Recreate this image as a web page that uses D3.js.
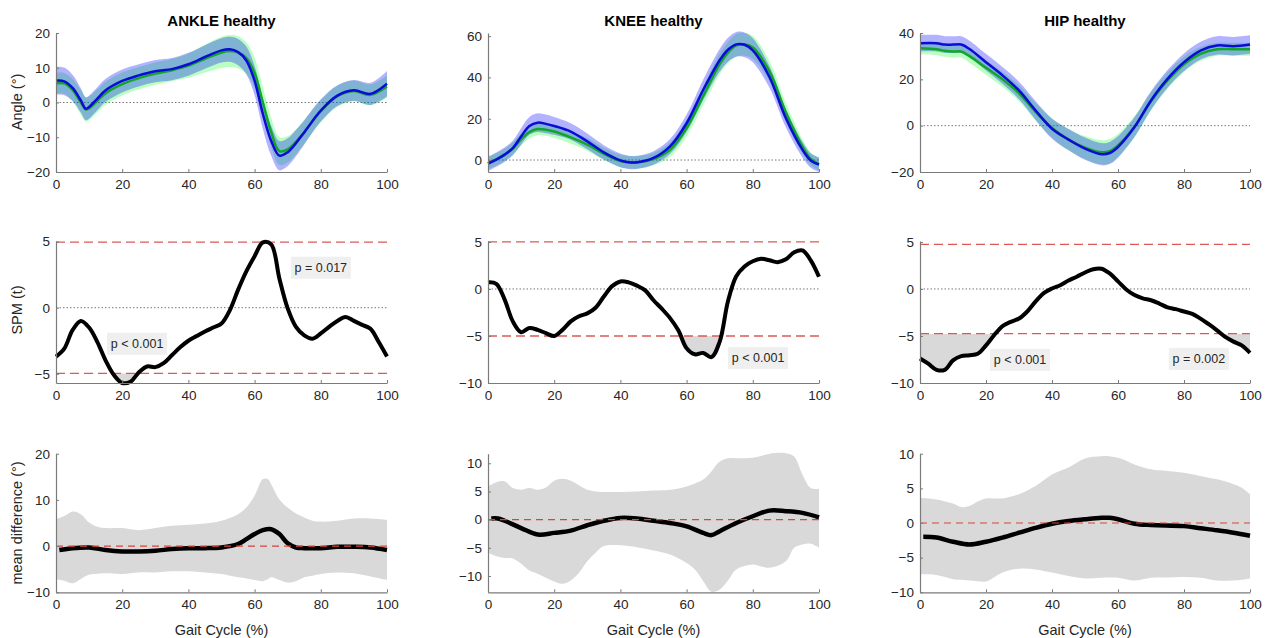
<!DOCTYPE html>
<html>
<head>
<meta charset="utf-8">
<script src="https://cdn.jsdelivr.net/npm/d3@7"></script>
<style>
  body { margin: 0; background: #fff; }
  text { font-family: "Liberation Sans", Arial, sans-serif; }
</style>
</head>
<body>
<svg id="chart" width="1269" height="638"></svg>
<script>
// ---------- data ----------
const joints = ["ANKLE", "KNEE", "HIP"];
const xTicks = [0, 20, 40, 60, 80, 100];

// joint angles (deg): healthy group (green) vs other group (blue), mean and sd
const ankleX = [0, 2.5, 5, 7.5, 9, 10, 12.5, 15, 20, 25, 30, 35, 40, 45, 50, 52.5, 55, 57.5, 60, 62.5, 65, 67.5, 70, 72.5, 75, 80, 85, 90, 95, 100];
const ankleBlue = [6.3, 6.1, 4.2, 0.6, -1.8, -1.3, 1.1, 3.5, 6.2, 7.8, 9.0, 9.6, 11, 13.1, 15.0, 15.3, 14.5, 12.1, 6.3, -3.3, -11, -15.3, -14.3, -11.7, -8.6, -2.3, 2.0, 3.5, 2.5, 5.4];
const ankleBlueSd = [4, 4, 3.8, 3.5, 3.3, 3.3, 3.3, 3.3, 3.3, 3.2, 3.2, 3.2, 3.3, 3.4, 3.5, 3.6, 3.8, 4, 4.2, 4.3, 4.3, 4.2, 4, 3.8, 3.5, 3.2, 3.0, 3.0, 3.2, 3.7];
const ankleGreen = [5.5, 5.5, 3.6, 0, -2, -1.7, 0.5, 2.7, 5.3, 7, 8.3, 9.3, 10.6, 12.6, 14.4, 14.8, 14.4, 12.8, 8.5, 0, -8.5, -14, -13.5, -11.3, -8.5, -2.5, 1.8, 3.3, 2.2, 4.6];
const ankleGreenSd = [3, 3, 3.2, 3.5, 3.5, 3.4, 3.3, 3.3, 3.3, 3.2, 3.2, 3.2, 3.5, 4, 4.5, 4.6, 4.6, 4.5, 4.4, 4.3, 4.2, 4, 3.8, 3.6, 3.4, 3.2, 3, 3, 3, 3.2];

const kneeX = [0, 2.5, 5, 7.5, 10, 12.5, 15, 17.5, 20, 25, 30, 35, 40, 42.5, 45, 50, 55, 60, 65, 70, 72.5, 75, 77.5, 80, 85, 90, 95, 97.5, 100];
const kneeBlue = [-1.8, 0.2, 2.6, 5.8, 11.4, 16.5, 18.1, 17.5, 16.5, 13.8, 9, 3.7, -0.2, -1.1, -1.1, 1, 6.6, 17.8, 33.9, 48.3, 53.4, 56, 55.8, 53.1, 40.3, 20.2, 5, -0.2, -2.2];
const kneeBlueSd = [3.5, 3.5, 3.5, 3.5, 4, 4.3, 4.5, 4.5, 4.3, 4, 3.8, 3.5, 3.3, 3.2, 3.2, 3.3, 3.6, 4.2, 5, 5.5, 5.8, 6, 6, 5.8, 5.2, 4.5, 3.8, 3.5, 3.5];
const kneeGreen = [-1.5, 0.3, 2.5, 5.5, 10, 13.5, 15, 14.7, 13.8, 11, 7.5, 3, -0.5, -1.1, -1.2, 0.5, 5, 15.5, 31, 46.5, 52, 55.5, 56, 54.5, 43, 23, 6.5, 0.5, -2];
const kneeGreenSd = [3, 3, 3, 3, 3, 3, 3, 3, 3, 3, 3, 3, 3, 3, 3, 3, 3.5, 4, 4.5, 5, 5.2, 5.5, 5.5, 5.5, 5, 4.5, 3.5, 3, 3];

const hipX = [0, 5, 7.5, 10, 12.5, 15, 20, 25, 30, 35, 40, 45, 50, 55, 57.5, 60, 65, 70, 75, 80, 85, 90, 95, 100];
const hipBlue = [35.6, 35.6, 35, 35, 35, 33.1, 27.4, 21.7, 15.2, 6.6, -1.3, -6, -9.9, -12.3, -11.8, -9.2, -0.6, 10.9, 20.2, 27.4, 32.4, 34.6, 34.3, 35];
const hipBlueSd = [3.6, 3.6, 3.6, 3.6, 3.6, 3.6, 3.6, 3.6, 3.8, 4, 4.3, 4.6, 4.8, 4.8, 4.8, 4.6, 4.3, 4, 3.8, 3.8, 3.8, 4, 4, 4];
const hipGreen = [33.4, 33, 32.3, 32, 32, 30, 25, 20, 14, 6, -1, -6, -9.5, -11.5, -11, -8.5, -0.5, 10.5, 19.5, 26.5, 31, 33, 33, 33];
const hipGreenSd = [2.6, 2.6, 2.6, 2.6, 2.6, 2.8, 3, 3.2, 3.4, 3.8, 4.2, 4.6, 5, 5.2, 5.2, 5, 4.5, 4, 3.6, 3.3, 3, 2.8, 2.8, 2.8];

// SPM{t} curves, sampled every 2.5 % of the gait cycle
const spmX = d3.range(0, 100.01, 2.5);
const ankleSpm = [-3.7, -3.1, -1.7, -1.0, -1.5, -2.6, -4.0, -5.1, -5.7, -5.6, -4.9, -4.45, -4.5, -4.2, -3.6, -3.0, -2.5, -2.15, -1.8, -1.5, -1.2, -0.2, 1.35, 2.75, 3.9, 4.95, 4.8, 2.2, -0.05, -1.45, -2.1, -2.35, -1.95, -1.45, -1.0, -0.7, -1.0, -1.3, -1.6, -2.6, -3.7];
const kneeSpm = [0.7, 0.55, -1.1, -3.45, -4.6, -4.15, -4.35, -4.7, -5.0, -4.35, -3.45, -2.9, -2.6, -2.0, -0.8, 0.3, 0.8, 0.7, 0.35, -0.15, -1.2, -2.1, -3.1, -4.4, -6.3, -6.95, -6.8, -7.25, -5.6, -1.3, 1.35, 2.4, 2.95, 3.2, 3.05, 2.85, 3.15, 3.9, 4.1, 3.05, 1.3];
const hipSpm = [-7.4, -7.95, -8.6, -8.6, -7.6, -7.15, -7.05, -6.9, -6.0, -4.9, -3.95, -3.5, -3.15, -2.4, -1.35, -0.45, 0.05, 0.4, 0.9, 1.3, 1.75, 2.1, 2.15, 1.65, 0.8, -0.05, -0.65, -1.0, -1.2, -1.55, -1.95, -2.15, -2.4, -2.65, -3.15, -3.75, -4.4, -5.1, -5.6, -6.0, -6.8];
const spmThreshold = [4.97, 5.0, 4.75];
const spmLabels = [
  [{ x: 24.5, y: -2.73, text: "p < 0.001" }, { x: 80, y: 3.03, text: "p = 0.017" }],
  [{ x: 81.6, y: -7.34, text: "p < 0.001" }],
  [{ x: 30.3, y: -7.54, text: "p < 0.001" }, { x: 84.5, y: -7.43, text: "p = 0.002" }]
];

// mean difference (deg) with its confidence band
const ankleDiffX = [1, 5, 10, 15, 20, 25, 30, 35, 40, 45, 50, 55, 57.5, 60, 62.5, 65, 67.5, 70, 72.5, 75, 80, 85, 90, 95, 100];
const ankleDiff = [-0.85, -0.45, -0.3, -0.85, -1.15, -1.15, -1.0, -0.65, -0.45, -0.45, -0.3, 0.45, 1.5, 2.6, 3.45, 3.65, 2.6, 0.6, -0.3, -0.45, -0.45, -0.15, -0.15, -0.3, -0.85];
const ankleBandX = [0, 2.5, 5, 7.5, 10, 12.5, 15, 20, 25, 30, 35, 40, 45, 50, 55, 57.5, 60, 62.5, 64, 65, 67.5, 70, 72.5, 75, 77.5, 80, 85, 90, 95, 100];
const ankleBandHi = [5.8, 6.5, 7.5, 6.9, 5.1, 4.2, 3.9, 3.9, 3.45, 3.9, 4.4, 4.6, 4.9, 5.5, 6.9, 8.35, 10.9, 14.5, 14.5, 13.4, 10.1, 8.35, 7.05, 6.2, 5.5, 5.3, 5.5, 6.0, 6.0, 5.7];
const ankleBandLo = [-7.1, -7.5, -8.05, -7.1, -6.2, -6.0, -5.9, -6.05, -5.7, -5.7, -5.45, -5.45, -5.7, -6.05, -6.75, -7.0, -7.35, -7.6, -7.2, -6.75, -7.35, -7.9, -7.6, -6.75, -6.4, -6.05, -5.7, -5.9, -6.6, -7.35];

const kneeDiffX = [1, 3, 5, 10, 15, 20, 25, 30, 35, 40, 45, 50, 55, 60, 65, 67.5, 70, 75, 80, 85, 90, 95, 100];
const kneeDiff = [0.2, 0.2, -0.2, -1.5, -2.65, -2.35, -1.95, -1.0, -0.2, 0.3, 0.2, -0.2, -0.6, -1.2, -2.35, -2.75, -2.05, -0.6, 0.6, 1.6, 1.5, 1.2, 0.4];
const kneeBandX = [0, 2.5, 5, 7.5, 10, 12.5, 15, 17.5, 20, 22.5, 25, 27.5, 30, 32.5, 35, 40, 45, 50, 55, 60, 62.5, 65, 67.5, 70, 72.5, 75, 80, 82.5, 85, 90, 92.5, 95, 97.5, 100];
const kneeBandHi = [5.9, 6.65, 6.8, 5.6, 5.3, 5.6, 5.3, 5.7, 6.9, 7.25, 6.9, 6.1, 5.3, 5.0, 4.9, 4.9, 5.0, 5.15, 5.3, 5.9, 6.4, 7.1, 8.55, 10.3, 10.9, 10.9, 11.0, 11.3, 11.7, 11.8, 11.2, 8.0, 5.6, 5.5];
const kneeBandLo = [-5.9, -6.5, -6.8, -6.9, -7.85, -9.05, -9.6, -10.3, -11.0, -11.4, -10.8, -9.45, -7.4, -5.9, -4.7, -4.55, -4.9, -5.5, -6.2, -7.7, -8.85, -10.9, -12.8, -12.4, -10.8, -8.85, -7.95, -8.3, -8.55, -7.4, -5.0, -4.4, -4.3, -5.0];

const hipDiffX = [1, 5, 10, 15, 20, 25, 30, 35, 40, 45, 50, 55, 57.5, 60, 65, 70, 80, 85, 90, 95, 100];
const hipDiff = [-2.0, -2.1, -2.7, -3.1, -2.7, -2.1, -1.4, -0.7, -0.1, 0.3, 0.55, 0.75, 0.75, 0.55, -0.1, -0.3, -0.45, -0.75, -1.05, -1.4, -1.85];
const hipBandX = [0, 5, 10, 12.5, 15, 17.5, 20, 25, 30, 35, 40, 45, 50, 55, 60, 65, 70, 75, 80, 85, 90, 95, 97.5, 100];
const hipBandHi = [3.65, 3.4, 2.8, 2.3, 2.45, 3.1, 3.55, 3.55, 4.15, 5.35, 7.0, 8.0, 9.3, 9.65, 9.4, 8.45, 7.75, 7.5, 7.25, 6.8, 6.3, 5.6, 5.1, 4.15];
const hipBandLo = [-7.4, -7.5, -8.1, -8.2, -8.3, -8.4, -8.45, -7.15, -6.6, -6.7, -7.15, -7.65, -8.0, -7.9, -7.9, -8.3, -7.9, -7.85, -7.8, -7.9, -8.3, -8.3, -8.2, -8.0];

// axis limits and ticks per row
const angleDomains = [[-20, 20], [-5.8, 61.5], [-20, 40]];
const angleTicks = [[-20, -10, 0, 10, 20], [0, 20, 40, 60], [-20, 0, 20, 40]];
const spmDomains = [[-5.7, 5.05], [-10, 5.1], [-10, 5.1]];
const spmTicks = [[-5, 0, 5], [-10, -5, 0, 5], [-10, -5, 0, 5]];
const diffDomains = [[-10, 20], [-12.9, 11.7], [-10, 10]];
const diffTicks = [[-10, 0, 10, 20], [-10, -5, 0, 5, 10], [-10, -5, 0, 5, 10]];

// ---------- layout ----------
const cols = [[56, 387], [488, 819], [920, 1250]];
const rows = [[172, 33], [383, 241], [592.3, 453.7]];
const axisColor = "#7a7a7a";
const textColor = "#262626";
const curve = d3.curveCatmullRom.alpha(0.5);

const svg = d3.select("#chart");
const zip = (xs, ys) => xs.map((x, i) => [x, ys[i]]);

function frame(c, r, yDomain, yTicks) {
  const x = d3.scaleLinear().domain([0, 100]).range(cols[c]);
  const y = d3.scaleLinear().domain(yDomain).range(rows[r]);
  const g = svg.append("g");
  return { g, x, y, yTicks };
}

function drawAxes(p) {
  const { g, x, y, yTicks } = p;
  const xa = g.append("g")
      .attr("transform", `translate(0,${y.range()[0]})`)
      .call(d3.axisBottom(x).tickValues(xTicks).tickSizeInner(-3).tickSizeOuter(0).tickPadding(7));
  const ya = g.append("g")
      .attr("transform", `translate(${x.range()[0]},0)`)
      .call(d3.axisLeft(y).tickValues(yTicks).tickSizeInner(-3).tickSizeOuter(0).tickPadding(6));
  [xa, ya].forEach(a => {
    a.select(".domain").attr("stroke", axisColor).attr("stroke-width", 1.2);
    a.selectAll(".tick line").attr("stroke", axisColor);
    a.selectAll(".tick text").attr("fill", textColor).attr("font-size", 13.5)
      .attr("font-family", '"Liberation Sans", Arial, sans-serif');
  });
}

function refLine(p, v, color, dash, width) {
  p.g.append("line")
      .attr("x1", p.x(0)).attr("x2", p.x(100))
      .attr("y1", p.y(v)).attr("y2", p.y(v))
      .attr("stroke", color).attr("stroke-width", width)
      .attr("stroke-dasharray", dash);
}

// ---------- row 1: joint angles ----------
const angleSets = [
  [ankleX, ankleGreen, ankleGreenSd, ankleBlue, ankleBlueSd],
  [kneeX, kneeGreen, kneeGreenSd, kneeBlue, kneeBlueSd],
  [hipX, hipGreen, hipGreenSd, hipBlue, hipBlueSd]
];

angleSets.forEach(([xs, gm, gsd, bm, bsd], c) => {
  const p = frame(c, 0, angleDomains[c], angleTicks[c]);
  refLine(p, 0, "#777", "1.5,2", 1);
  const band = (m, s) => d3.area().curve(curve)
      .x((d, i) => p.x(xs[i]))
      .y0((d, i) => p.y(m[i] - s[i]))
      .y1((d, i) => p.y(m[i] + s[i]))(xs);
  p.g.append("path").attr("d", band(gm, gsd)).attr("fill", "#00ff20").attr("fill-opacity", 0.28);
  p.g.append("path").attr("d", band(bm, bsd)).attr("fill", "#0000ff").attr("fill-opacity", 0.3);
  const line = d3.line().curve(curve).x(d => p.x(d[0])).y(d => p.y(d[1]));
  p.g.append("path").attr("d", line(zip(xs, gm))).attr("fill", "none")
      .attr("stroke", "#12a52a").attr("stroke-width", 2.5);
  p.g.append("path").attr("d", line(zip(xs, bm))).attr("fill", "none")
      .attr("stroke", "#0b0bd6").attr("stroke-width", 2.5);
  drawAxes(p);
  svg.append("text")
      .attr("x", (cols[c][0] + cols[c][1]) / 2).attr("y", 26)
      .attr("text-anchor", "middle").attr("font-size", 15).attr("font-weight", "bold")
      .attr("fill", "#000").text(`${joints[c]} healthy`);
});

// ---------- row 2: SPM{t} ----------
const spmSets = [ankleSpm, kneeSpm, hipSpm];
spmSets.forEach((vals, c) => {
  const p = frame(c, 1, spmDomains[c], spmTicks[c]);
  const t = spmThreshold[c];
  const pts = zip(spmX, vals);
  const id = `clip${c}`;
  const defs = p.g.append("defs");
  defs.append("clipPath").attr("id", id + "lo").append("rect")
      .attr("x", p.x(0)).attr("width", p.x(100) - p.x(0))
      .attr("y", p.y(-t)).attr("height", 60);
  defs.append("clipPath").attr("id", id + "hi").append("rect")
      .attr("x", p.x(0)).attr("width", p.x(100) - p.x(0))
      .attr("y", p.y(t) - 60).attr("height", 60);
  [[-t, "lo"], [t, "hi"]].forEach(([lvl, k]) => {
    p.g.append("path")
        .attr("clip-path", `url(#${id + k})`)
        .attr("d", d3.area().curve(curve).x(d => p.x(d[0])).y0(p.y(lvl)).y1(d => p.y(d[1]))(pts))
        .attr("fill", "#d9d9d9");
  });
  refLine(p, 0, "#777", "1.5,2", 1);
  refLine(p, t, "#dc5a55", "9,5", 1.3);
  refLine(p, -t, "#dc5a55", "9,5", 1.3);
  p.g.append("path")
      .attr("d", d3.line().curve(curve).x(d => p.x(d[0])).y(d => p.y(d[1]))(pts))
      .attr("fill", "none").attr("stroke", "#000").attr("stroke-width", 4);
  drawAxes(p);
  spmLabels[c].forEach(l => {
    const lg = p.g.append("g").attr("transform", `translate(${p.x(l.x)},${p.y(l.y)})`);
    lg.append("rect").attr("x", -30).attr("y", -11).attr("width", 60).attr("height", 22)
        .attr("fill", "#efefef");
    lg.append("text").attr("text-anchor", "middle").attr("dy", "0.35em")
        .attr("font-size", 12.5).attr("fill", textColor).text(l.text);
  });
});

// ---------- row 3: mean difference ----------
const diffSets = [
  [ankleDiffX, ankleDiff, ankleBandX, ankleBandHi, ankleBandLo],
  [kneeDiffX, kneeDiff, kneeBandX, kneeBandHi, kneeBandLo],
  [hipDiffX, hipDiff, hipBandX, hipBandHi, hipBandLo]
];
diffSets.forEach(([mx, m, bx, hi, lo], c) => {
  const p = frame(c, 2, diffDomains[c], diffTicks[c]);
  p.g.append("path")
      .attr("d", d3.area().curve(curve)
        .x((d, i) => p.x(bx[i])).y0((d, i) => p.y(lo[i])).y1((d, i) => p.y(hi[i]))(bx))
      .attr("fill", "#d9d9d9");
  p.g.append("path")
      .attr("d", d3.line().curve(curve).x(d => p.x(d[0])).y(d => p.y(d[1]))(zip(mx, m)))
      .attr("fill", "none").attr("stroke", "#000").attr("stroke-width", 4.5);
  refLine(p, 0, "#d9443f", "7,5", 1.2);
  drawAxes(p);
  svg.append("text")
      .attr("x", (cols[c][0] + cols[c][1]) / 2).attr("y", 635)
      .attr("text-anchor", "middle").attr("font-size", 14.5).attr("fill", textColor)
      .text("Gait Cycle (%)");
});

// ---------- y-axis titles ----------
const yTitles = [["Angle (°)", 102], ["SPM (t)", 310], ["mean difference (°)", 523]];
yTitles.forEach(([t, cy]) => {
  svg.append("text")
      .attr("transform", `translate(22,${cy}) rotate(-90)`)
      .attr("text-anchor", "middle").attr("font-size", 14.5).attr("fill", textColor)
      .text(t);
});
</script>
</body>
</html>
